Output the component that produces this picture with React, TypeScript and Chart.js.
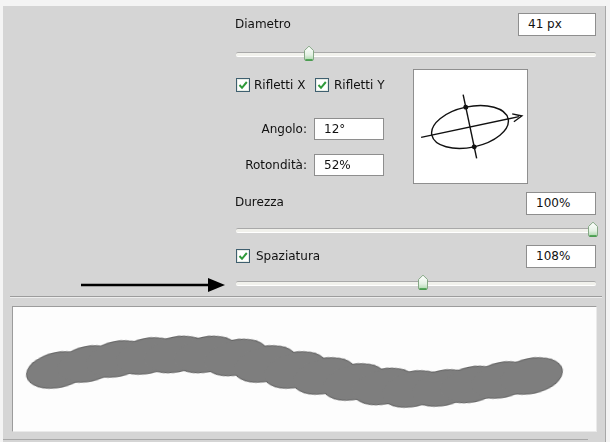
import React, { useEffect, useRef } from "react";
import { Chart, registerables } from "chart.js";

Chart.register(...registerables);

// Brush preview stroke: dab centres (preview units, origin at the preview box's top-left)
const dabX = [44, 74, 103, 133, 162, 192, 222, 251, 281, 310, 340, 370, 399, 429, 458, 488, 517];
const dabY = [62, 56, 51, 48, 46.5, 46.5, 49.5, 56, 62, 68, 74, 78.5, 81, 80, 76.5, 72, 68];

// Brush settings shown in the panel
const diameterLabel = "41 px";
const angleLabel = "12°";
const roundnessLabel = "52%";
const hardnessLabel = "100%";
const spacingLabel = "108%";
const angleDeg = 12;
const roundness = 0.52;

const FONT = '"DejaVu Sans", Verdana, sans-serif';

function makeDab(a: number, b: number, color: string, size: [number, number]): HTMLCanvasElement {
  const c = document.createElement("canvas");
  c.width = size[0];
  c.height = size[1];
  const ctx = c.getContext("2d")!;
  ctx.fillStyle = color;
  ctx.beginPath();
  ctx.ellipse(c.width / 2, c.height / 2, a, b, 0, 0, Math.PI * 2);
  ctx.fill();
  return c;
}

function StrokePreview() {
  const ref = useRef<HTMLCanvasElement | null>(null);
  useEffect(() => {
    if (!ref.current) return;
    const a = 31.5;
    const b = 17;
    const size: [number, number] = [68, 40];
    const outline = makeDab(a + 0.9, b + 0.9, "#606060", size);
    const fill = makeDab(a, b, "#7e7e7e", size);
    const chart = new Chart(ref.current, {
      type: "scatter",
      data: {
        datasets: [
          { data: dabX.map((x, i) => ({ x, y: dabY[i] })), pointStyle: fill as any, pointRotation: -angleDeg, pointRadius: 3, showLine: false, order: 0 } as any,
          { data: dabX.map((x, i) => ({ x, y: dabY[i] })), pointStyle: outline as any, pointRotation: -angleDeg, pointRadius: 3, showLine: false, order: 1 } as any,
        ],
      },
      options: {
        animation: false,
        responsive: false,
        maintainAspectRatio: false,
        events: [],
        layout: { padding: 0, autoPadding: false },
        plugins: { legend: { display: false }, tooltip: { enabled: false } },
        scales: {
          x: { type: "linear", min: 0, max: 581, display: false },
          y: { type: "linear", min: 0, max: 122, reverse: true, display: false },
        },
      },
    });
    return () => chart.destroy();
  }, []);
  return (
    <canvas
      ref={ref}
      width={581}
      height={122}
      style={{ position: "absolute", left: 14, top: 308, width: 581, height: 122, display: "block" }}
    />
  );
}

function Label({ x, y, text, w, right }: { x: number; y: number; text: string; w?: number; right?: boolean }) {
  return (
    <div
      style={{
        position: "absolute",
        left: x,
        top: y - 8,
        width: w,
        height: 16,
        lineHeight: "16px",
        fontFamily: FONT,
        fontSize: 12,
        color: "#111",
        whiteSpace: "nowrap",
        textAlign: right ? "right" : "left",
      }}
    >
      {text}
    </div>
  );
}

function Field({ x, y, w, h, text }: { x: number; y: number; w: number; h: number; text: string }) {
  return (
    <div
      style={{
        position: "absolute",
        left: x,
        top: y,
        width: w - 2,
        height: h - 2,
        background: "#fff",
        border: "1px solid #8e8e8e",
        fontFamily: FONT,
        fontSize: 12,
        lineHeight: `${h - 2}px`,
        color: "#111",
        boxSizing: "content-box",
      }}
    >
      <span style={{ marginLeft: 9 }}>{text}</span>
    </div>
  );
}

function Check({ x, y }: { x: number; y: number }) {
  return (
    <svg style={{ position: "absolute", left: x, top: y }} width={14} height={14}>
      <rect x={0.5} y={0.5} width={13} height={13} fill="#fff" stroke="#3f5f6f" />
      <rect x={1.5} y={1.5} width={11} height={11} fill="none" stroke="#e6ece6" />
      <path d="M3.5 7 L6 9.8 L10.8 4" fill="none" stroke="#2f9a3a" strokeWidth={2} />
    </svg>
  );
}

function Slider({ x1, x2, y, thumb }: { x1: number; x2: number; y: number; thumb: number }) {
  return (
    <>
      <div
        style={{
          position: "absolute",
          left: x1,
          top: y - 2,
          width: x2 - x1,
          height: 3,
          background: "#f1f1ec",
          borderTop: "1px solid #a9a9a9",
          borderBottom: "1px solid #ffffff",
          borderRadius: 2,
        }}
      />
      <svg style={{ position: "absolute", left: thumb - 6, top: y - 9 }} width={12} height={17}>
        <defs>
          <linearGradient id={`g${y}`} x1="0" y1="0" x2="0" y2="1">
            <stop offset="0" stopColor="#ffffff" />
            <stop offset="0.6" stopColor="#e4f1e4" />
            <stop offset="1" stopColor="#a8d6a8" />
          </linearGradient>
        </defs>
        <path d="M1.5 5.5 L6 1.2 L10.5 5.5 L10.5 14 Q10.5 15.5 9 15.5 L3 15.5 Q1.5 15.5 1.5 14 Z" fill={`url(#g${y})`} stroke="#86a886" />
        <line x1={2.5} y1={15} x2={9.5} y2={15} stroke="#3d9a45" strokeWidth={1.6} />
      </svg>
    </>
  );
}

function TipDiagram() {
  const cx = 470;
  const cy = 127;
  const rx = 39;
  const ry = rx * roundness;
  return (
    <svg style={{ position: "absolute", left: 0, top: 0 }} width={610} height={442}>
      <rect x={413.5} y={69.5} width={114} height={114} fill="#fff" stroke="#333" strokeDasharray="1 1" />
      <g transform={`translate(${cx} ${cy}) rotate(${-angleDeg})`} stroke="#111" strokeWidth={1.4} fill="none">
        <ellipse cx={0} cy={0} rx={rx} ry={ry} />
        <line x1={-50} y1={0} x2={50} y2={0} />
        <line x1={0} y1={-33} x2={0} y2={32} />
        <path d="M44 -4 L53 0 L44 4" />
        <circle cx={0} cy={-ry} r={2.4} fill="#111" stroke="none" />
        <circle cx={0} cy={ry} r={2.4} fill="#111" stroke="none" />
      </g>
      {/* pointer arrow */}
      <line x1={81} y1={285} x2={212} y2={285} stroke="#000" strokeWidth={2.5} />
      <polygon points="208,278 225,285 208,292" fill="#000" />
    </svg>
  );
}

export default function App() {
  return (
    <div style={{ position: "fixed", left: 0, top: 0, width: 610, height: 442, background: "#f4f4f4", overflow: "hidden" }}>
      <div style={{ position: "absolute", left: 3, top: 6, width: 602, height: 436, background: "#d5d5d5", borderRight: "1px solid #a8a8a8" }} />
      {/* separator */}
      <div style={{ position: "absolute", left: 10, top: 296, width: 592, height: 1, background: "#9c9c9c" }} />
      <div style={{ position: "absolute", left: 10, top: 297, width: 592, height: 1, background: "#ececec" }} />
      {/* preview box */}
      <div
        style={{
          position: "absolute",
          left: 12,
          top: 306,
          width: 583,
          height: 124,
          background: "#fdfdfd",
          borderTop: "1px solid #9c9c9c",
          borderLeft: "1px solid #9c9c9c",
          borderRight: "1px solid #eaeaea",
          borderBottom: "1px solid #eaeaea",
        }}
      />
      <div style={{ position: "absolute", left: 3, top: 439, width: 585, height: 1, background: "#a8a8a8" }} />
      <StrokePreview />
      <TipDiagram />

      <Label x={235} y={24} text="Diametro" />
      <Field x={518} y={13} w={78} h={23} text={diameterLabel} />
      <Slider x1={236} x2={596} y={54} thumb={309} />

      <Check x={236} y={78} />
      <Label x={254} y={85} text="Rifletti X" />
      <Check x={315} y={78} />
      <Label x={334} y={85} text="Rifletti Y" />

      <Label x={225} y={129} w={82} right text="Angolo:" />
      <Field x={314} y={118} w={70} h={22} text={angleLabel} />
      <Label x={225} y={165} w={82} right text="Rotondità:" />
      <Field x={314} y={154} w={70} h={22} text={roundnessLabel} />

      <Label x={235} y={202} text="Durezza" />
      <Field x={526} y={192} w={70} h={23} text={hardnessLabel} />
      <Slider x1={236} x2={596} y={230} thumb={593} />

      <Check x={236} y={249} />
      <Label x={256} y={256} text="Spaziatura" />
      <Field x={526} y={245} w={70} h={23} text={spacingLabel} />
      <Slider x1={236} x2={596} y={283} thumb={423} />
    </div>
  );
}
